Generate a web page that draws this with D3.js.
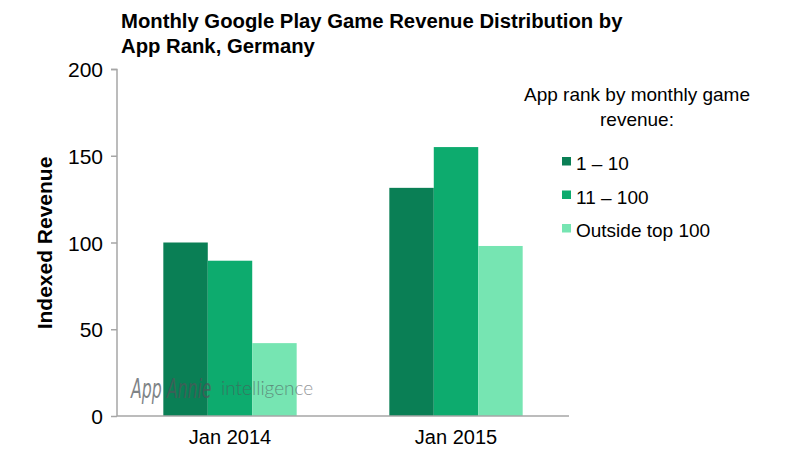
<!DOCTYPE html>
<html><head><meta charset="utf-8">
<script src="https://cdn.jsdelivr.net/npm/d3@7"></script>
<style>body{margin:0;background:#fff}svg{display:block;font-family:"Liberation Sans",Arial,sans-serif}</style>
</head><body>
<svg id="c" width="792" height="460"></svg>
<script>
const categories = ["Jan 2014", "Jan 2015"];
const seriesNames = ["1 – 10", "11 – 100", "Outside top 100"];
const rank1to10 = [100, 131.5];
const rank11to100 = [89.5, 155];
const outsideTop100 = [42, 98];
const yTicks = [0, 50, 100, 150, 200];
const colors = ["#0a7f55", "#0dab6e", "#76e5b2"];

const series = [rank1to10, rank11to100, outsideTop100];
const svg = d3.select("#c");
const y = d3.scaleLinear().domain([0, 200]).range([416, 69]);
const x0 = d3.scaleBand().domain(categories).range([117, 569]).paddingInner(0.41).paddingOuter(0.205);
const x1 = d3.scaleBand().domain(d3.range(series.length)).range([0, x0.bandwidth()]);

// bars
categories.forEach((c, i) => {
  series.forEach((s, j) => {
    svg.append("rect").attr("x", x0(c) + x1(j)).attr("width", x1.bandwidth())
      .attr("y", y(s[i])).attr("height", y(0) - y(s[i])).attr("fill", colors[j]);
  });
});

// watermark
svg.append("text").attr("transform", "translate(131,398) scale(1,1.55)").attr("font-size", 17.5).attr("font-style", "italic")
  .attr("font-family", "'Liberation Sans Narrow','DejaVu Sans Condensed',sans-serif")
  .attr("fill", "#4f555a").attr("opacity", 0.72).text("App Annie");
const wmEnd = 131 + svg.select("text").node().getBBox().width;
svg.append("text").attr("x", Math.max(220, wmEnd + 8)).attr("y", 395).attr("font-size", 19).attr("font-weight", 300)
  .attr("font-family", "Lato,'Open Sans',sans-serif")
  .attr("fill", "#4f555a").attr("opacity", 0.6).text("intelligence");

// y axis
const yAxis = svg.append("g").attr("transform", "translate(117,0)")
  .call(d3.axisLeft(y).tickValues(yTicks).tickSize(6).tickPadding(8));
yAxis.selectAll("path,line").attr("stroke", "#a6a6a6").attr("stroke-width", 1.5);
yAxis.select(".domain").attr("d", "M-6,69.5H0V416");
yAxis.selectAll("text").attr("font-size", 21).attr("fill", "#000").attr("font-family", "'Liberation Sans',Arial,sans-serif").attr("dy", "0.36em");

// x axis
const xAxis = svg.append("g").attr("transform", "translate(0,416)")
  .call(d3.axisBottom(x0).tickSize(0).tickPadding(14));
xAxis.select(".domain").attr("stroke", "#a6a6a6").attr("stroke-width", 1.5).attr("d", "M117,0H569");
xAxis.selectAll("text").attr("font-size", 20).attr("fill", "#000").attr("font-family", "'Liberation Sans',Arial,sans-serif");

// y label
svg.append("text").attr("transform", "translate(52,243) rotate(-90)").attr("text-anchor", "middle")
  .attr("font-size", 21).attr("font-weight", "bold").text("Indexed Revenue");

// title
svg.append("text").attr("x", 121).attr("y", 28).attr("font-size", 20.3).attr("font-weight", "bold").text("Monthly Google Play Game Revenue Distribution by");
svg.append("text").attr("x", 121).attr("y", 53).attr("font-size", 20.3).attr("font-weight", "bold").text("App Rank, Germany");

// legend
svg.append("text").attr("x", 637).attr("y", 101).attr("text-anchor", "middle").attr("font-size", 19).text("App rank by monthly game");
svg.append("text").attr("x", 637).attr("y", 126).attr("text-anchor", "middle").attr("font-size", 19).text("revenue:");
const leg = svg.append("g");
seriesNames.forEach((n, j) => {
  const yy = 157 + j * 33.5;
  leg.append("rect").attr("x", 562).attr("y", yy).attr("width", 9).attr("height", 8.5).attr("fill", colors[j]);
  leg.append("text").attr("x", 576).attr("y", yy + 13).attr("font-size", 19).text(n);
});
</script>
</body></html>
